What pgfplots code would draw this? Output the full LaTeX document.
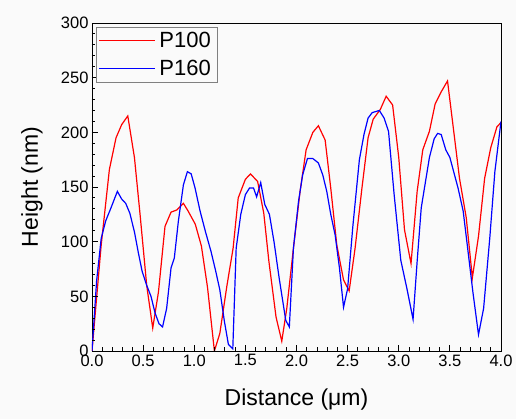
\documentclass[border=0pt]{standalone}
\usepackage{fontspec}
\setmainfont{Liberation Sans}
\usepackage{pgfplots}
\pgfplotsset{compat=1.18}
\definecolor{bgc}{RGB}{250,250,250}

\begin{document}
\begin{tikzpicture}
\fill[bgc] (-92pt,-68pt) rectangle (424pt,351pt);
\begin{axis}[
    scale only axis,
    width=409pt, height=328pt,
    xmin=0, xmax=4, ymin=0, ymax=300,
    xtick={0,0.5,...,4}, ytick={0,50,...,300},
    minor x tick num=4, minor y tick num=4,
    xtick pos=bottom, ytick pos=left, tick align=inside,
    major tick length=6pt, minor tick length=3.5pt,
    major tick style={black, line width=0.9pt},
    minor tick style={black, line width=0.9pt},
    axis line style={line width=0.9pt},
    /pgf/number format/assume math mode=true,
    xticklabel style={/pgf/number format/.cd, fixed, fixed zerofill, precision=1},
    tick label style={font=\fontsize{16.5}{19}\selectfont},
    xlabel={Distance (μm)}, ylabel={Height (nm)},
    every axis x label/.style={at={(axis description cs:0.5,0)}, anchor=center,
        yshift=-49pt, font=\fontsize{23}{27}\selectfont},
    every axis y label/.style={at={(axis description cs:0,0.5)}, anchor=center,
        rotate=90, yshift=60pt, font=\fontsize{23}{27}\selectfont},
    legend style={at={(0.01,0.988)}, anchor=north west, draw=gray, fill=bgc,
        font=\fontsize{22}{24}\selectfont, inner xsep=2pt, inner ysep=3pt,
        row sep=7pt, nodes={inner xsep=4pt}},
    legend cell align=left,
    legend image code/.code={\draw[#1] (0pt,0pt) -- (56pt,0pt);},
]
\addplot[red, line width=1.2pt] coordinates {
(0,0) (0.09,97) (0.17,166) (0.235,195) (0.29,207) (0.35,215) (0.415,177)
(0.47,125) (0.535,60) (0.594,21) (0.65,54) (0.714,114) (0.773,127) (0.83,129)
(0.894,135) (0.94,128) (1.01,116) (1.07,96) (1.13,58) (1.197,0) (1.25,16)
(1.32,60) (1.38,94) (1.43,140) (1.50,157) (1.55,162) (1.62,155) (1.68,126)
(1.73,82) (1.80,31) (1.856,9) (1.905,39) (1.97,94) (2.035,146) (2.094,184)
(2.16,200) (2.214,206) (2.28,193) (2.335,149) (2.394,97) (2.46,65) (2.515,55)
(2.573,94) (2.64,149) (2.70,195) (2.75,212) (2.82,221) (2.877,233) (2.94,225)
(3.0,177) (3.056,111) (3.12,80) (3.18,146) (3.235,184) (3.30,201) (3.356,226)
(3.415,237) (3.477,247) (3.535,203) (3.594,158) (3.66,122) (3.72,67) (3.78,105)
(3.84,158) (3.90,186) (3.96,205) (4.0,209)};
\addplot[blue, line width=1.2pt] coordinates {
(0,0) (0.045,64) (0.09,103) (0.134,119) (0.186,131) (0.248,146) (0.29,139)
(0.33,135) (0.37,126) (0.415,109) (0.453,90) (0.49,73) (0.535,60) (0.577,50)
(0.616,35) (0.655,25) (0.69,22) (0.73,39) (0.773,76) (0.805,85) (0.845,119)
(0.894,152) (0.933,164) (0.97,162) (1.008,149) (1.057,128) (1.11,109) (1.164,91)
(1.21,73) (1.25,56) (1.295,27) (1.334,6) (1.377,2) (1.41,94) (1.455,125)
(1.50,143) (1.54,149) (1.58,149) (1.61,141) (1.65,154) (1.69,134) (1.735,125)
(1.78,100) (1.83,67) (1.895,28) (1.93,22) (1.97,94) (2.02,137) (2.06,161)
(2.107,176) (2.16,176) (2.214,172) (2.257,161) (2.296,146) (2.335,125) (2.378,106)
(2.42,76) (2.46,40) (2.50,57) (2.55,113) (2.615,175) (2.66,198) (2.70,213)
(2.74,218) (2.81,220) (2.857,213) (2.90,201) (2.955,143) (3.02,83) (3.08,57)
(3.14,29) (3.18,82) (3.22,131) (3.30,177) (3.346,194) (3.38,199) (3.415,198)
(3.46,184) (3.50,177) (3.54,163) (3.58,149) (3.63,128) (3.67,97) (3.725,54)
(3.78,15) (3.83,39) (3.89,103) (3.94,164) (4.0,210)};
\legend{P100, P160}
% tick marks along the bottom and left edges
\pgfplotsinvokeforeach{0.5,1.0,1.5,2.0,2.5,3.0,3.5}{
  \draw[black, line width=0.9pt] (axis cs:#1,0) -- ++(0,6pt);}
\pgfplotsinvokeforeach{0.1,0.2,0.3,0.4,0.6,0.7,0.8,0.9,1.1,1.2,1.3,1.4,1.6,1.7,1.8,1.9,
  2.1,2.2,2.3,2.4,2.6,2.7,2.8,2.9,3.1,3.2,3.3,3.4,3.6,3.7,3.8,3.9}{
  \draw[black, line width=0.9pt] (axis cs:#1,0) -- ++(0,3.5pt);}
\pgfplotsinvokeforeach{50,100,150,200,250}{
  \draw[black, line width=0.9pt] (axis cs:0,#1) -- ++(6pt,0);}
\pgfplotsinvokeforeach{10,20,30,40,60,70,80,90,110,120,130,140,160,170,180,190,
  210,220,230,240,260,270,280,290}{
  \draw[black, line width=0.9pt] (axis cs:0,#1) -- ++(3.5pt,0);}
\end{axis}
\end{tikzpicture}
\end{document}
